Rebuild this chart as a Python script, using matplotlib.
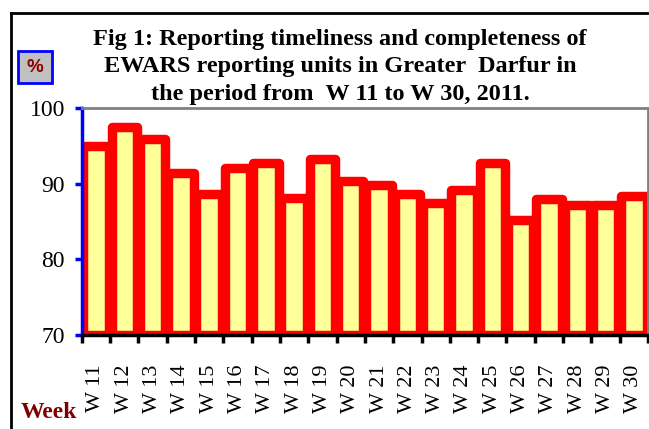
import numpy as np
import matplotlib.pyplot as plt
from matplotlib.patches import Rectangle

# Data

weeks = ["W 11", "W 12", "W 13", "W 14", "W 15", "W 16", "W 17", "W 18", "W 19", "W 20",
         "W 21", "W 22", "W 23", "W 24", "W 25", "W 26", "W 27", "W 28", "W 29", "W 30"]
values = [95.0, 97.5, 95.9, 91.5, 88.7, 92.1, 92.7, 88.1, 93.3, 90.4,
          89.8, 88.6, 87.5, 89.2, 92.7, 85.2, 88.0, 87.2, 87.2, 88.4]

title = ("Fig 1: Reporting timeliness and completeness of\n"
         "EWARS reporting units in Greater  Darfur in\n"
         "the period from  W 11 to W 30, 2011.")

plt.rcParams['font.family'] = ['Liberation Serif', 'DejaVu Serif']

fig = plt.figure(figsize=(6.49, 4.29), dpi=100)
ax = fig.add_axes([0.126, 0.219, 0.8725, 0.5285])

# Bars: pale yellow with a thick red border
x = np.arange(len(weeks))
ax.bar(x, [v - 70 for v in values], bottom=70, width=0.9,
       color='#FFFF99', edgecolor='#FF0000', linewidth=6.8,
       joinstyle='round')

ax.set_xlim(-0.5, len(weeks) - 0.5)
ax.set_ylim(70, 100)

# Spines
ax.spines['left'].set_color('#0000FF')
ax.spines['left'].set_linewidth(2.5)
ax.spines['bottom'].set_color('black')
ax.spines['bottom'].set_linewidth(2.5)
ax.spines['top'].set_color('#808080')
ax.spines['top'].set_linewidth(2)
ax.spines['right'].set_color('#808080')
ax.spines['right'].set_linewidth(2)
for s in ax.spines.values():
    s.set_zorder(5)

# Y ticks
ax.set_yticks([70, 80, 90, 100])
ax.tick_params(axis='y', colors='#0000FF', length=5, width=2.5,
               labelcolor='black', labelsize=17, pad=7)

# X ticks: marks at category boundaries, labels at centres
ax.set_xticks(np.arange(-0.5, len(weeks), 1.0))
ax.set_xticklabels([])
ax.tick_params(axis='x', which='major', length=6, width=2.5, color='black')
ax.set_xticks(x, minor=True)
ax.set_xticklabels(weeks, minor=True, rotation=90, fontsize=16)
ax.tick_params(axis='x', which='minor', length=0, pad=21)

# Title
fig.text(0.524, 1 - 100 / 429, title, ha='center', va='baseline', fontsize=17.5,
         fontweight='bold', linespacing=1.42)

# Week label
fig.text(0.075, 1 - 418 / 429, "Week", ha='center', va='baseline', fontsize=17,
         fontweight='bold', color='#800000')

# % box
fig.patches.append(Rectangle((18 / 649, 1 - 83 / 429), 34 / 649, 32 / 429,
                             transform=fig.transFigure, facecolor='#C0C0C0',
                             edgecolor='#0000FF', linewidth=2))
fig.text(35 / 649, 1 - 67 / 429, "%", ha='center', va='center', fontsize=13.5,
         fontweight='bold', color='#8B0000', family='Liberation Sans')

# Outer chart frame
fig.add_artist(plt.Line2D([11 / 649, 11 / 649], [0, 1 - 13 / 429],
                          transform=fig.transFigure, color='black', lw=2))
fig.add_artist(plt.Line2D([11 / 649, 1], [1 - 13 / 429, 1 - 13 / 429],
                          transform=fig.transFigure, color='black', lw=2))

fig.savefig('out.png', dpi=100)
